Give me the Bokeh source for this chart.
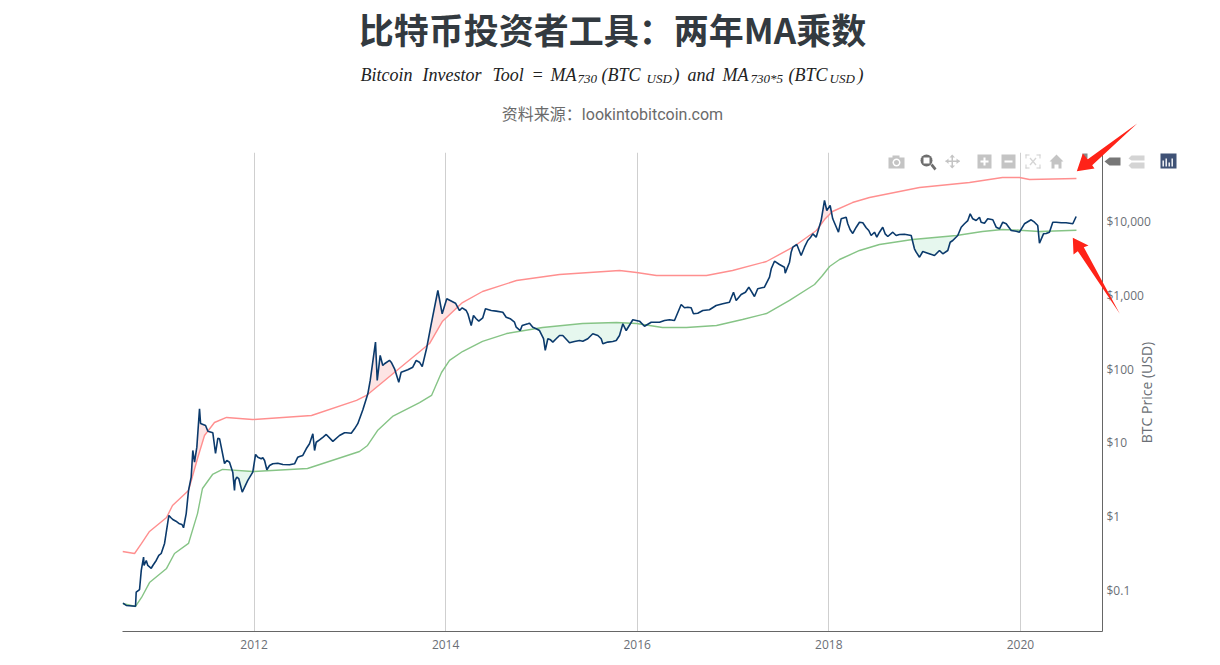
import math
import numpy as np
from bokeh.plotting import figure
from bokeh.layouts import column
from bokeh.models import FixedTicker, Label, PolyAnnotation, Range1d
from bokeh.embed import file_html
from bokeh.resources import INLINE

title_text = "比特币投资者工具：两年MA乘数"
source_text = "资料来源：lookintobitcoin.com"
y_axis_title = "BTC Price (USD)"

x_ticks = [2012, 2014, 2016, 2018, 2020]
y_ticks = [0.1, 1, 10, 100, 1000, 10000]
y_tick_labels = ["$0.1", "$1", "$10", "$100", "$1,000", "$10,000"]

price_year_main = [2010.631, 2010.666, 2010.763, 2010.770, 2010.805, 2010.823, 2010.847, 2010.852, 2010.875, 2010.927,
    2010.979, 2011.031, 2011.066, 2011.111, 2011.152, 2011.222, 2011.264, 2011.292, 2011.316, 2011.344,
    2011.361, 2011.379, 2011.403, 2011.431, 2011.442, 2011.494, 2011.518, 2011.570, 2011.598, 2011.622,
    2011.658, 2011.692, 2011.744, 2011.796, 2011.820, 2011.877, 2011.935, 2011.987, 2012.016, 2012.075,
    2012.110, 2012.134, 2012.196, 2012.301, 2012.423, 2012.457, 2012.509, 2012.545, 2012.614, 2012.632,
    2012.649, 2012.754, 2012.823, 2012.945, 2013.015, 2013.083, 2013.136, 2013.188, 2013.213, 2013.268,
    2013.286, 2013.317, 2013.344, 2013.414, 2013.467, 2013.511, 2013.536, 2013.657, 2013.693, 2013.756,
    2013.804, 2013.850, 2013.919, 2013.964, 2014.012, 2014.103, 2014.145, 2014.215, 2014.267, 2014.291,
    2014.346, 2014.416, 2014.597, 2014.632, 2014.719, 2014.779, 2014.858, 2014.946, 2015.022, 2015.040,
    2015.067, 2015.119, 2015.189, 2015.293, 2015.432, 2015.536, 2015.624, 2015.641, 2015.781, 2015.850,
    2015.885, 2015.954, 2016.024, 2016.076, 2016.146, 2016.337, 2016.389, 2016.459, 2016.494, 2016.563,
    2016.587, 2016.685, 2016.824, 2016.963, 2017.005, 2017.033, 2017.165, 2017.224, 2017.328, 2017.433,
    2017.537, 2017.545, 2017.624, 2017.666, 2017.711, 2017.780, 2017.833, 2017.868, 2017.920, 2017.955,
    2017.979, 2018.014, 2018.041, 2018.101, 2018.129, 2018.181, 2018.250, 2018.320, 2018.442, 2018.563,
    2018.616, 2018.668, 2018.738, 2018.860, 2018.894, 2018.947, 2018.981, 2019.103, 2019.242, 2019.267,
    2019.346, 2019.416, 2019.476, 2019.503, 2019.573, 2019.625, 2019.712, 2019.747, 2019.816, 2019.904,
    2019.990, 2020.112, 2020.181, 2020.199, 2020.241, 2020.303, 2020.338, 2020.426, 2020.547, 2020.582]
price_usd_main = [0.0673, 0.0627, 0.0612, 0.0948, 0.103, 0.187, 0.283, 0.218, 0.255, 0.200,
    0.255, 0.317, 0.434, 1.04, 0.916, 0.80, 0.708, 1.10, 2.26, 3.43,
    7.89, 5.47, 8.75, 29.0, 18.3, 17.2, 14.4, 13.7, 7.18, 11.5,
    8.75, 5.26, 5.47, 2.26, 3.43, 2.15, 3.10, 4.01, 6.97, 6.09,
    5.78, 4.32, 5.21, 5.09, 5.21, 6.40, 6.75, 8.32, 13.3, 7.89,
    10.2, 13.0, 10.5, 13.7, 13.5, 18.2, 28.1, 46.2, 70.1, 232,
    70, 153, 112, 131, 101, 66.4, 90.8, 106, 131, 108,
    198, 411, 1161, 561, 897, 782, 622, 622, 390, 532,
    446, 656, 590, 505, 432, 333, 411, 352, 258, 179,
    258, 232, 285, 227, 239, 301, 258, 220, 244, 411,
    333, 466, 446, 381, 432, 466, 456, 750, 677, 677,
    561, 622, 727, 806, 1101, 851, 1288, 963, 1288, 2897,
    2404, 1995, 4486, 4880, 3460, 5530, 6810, 6130, 10300, 19270,
    14090, 16480, 10880, 7160, 10880, 11430, 6880, 9780, 6460, 8370,
    6260, 7160, 6670, 6460, 4270, 3280, 3920, 3460, 4050, 5240,
    6460, 9310, 12710, 10880, 11430, 9480, 10550, 8370, 9780, 7550,
    7160, 10550, 8830, 5080, 6810, 7160, 9780, 9600, 9310, 11690]

price_year_more = [2010.891, 2010.944, 2011.006, 2011.133, 2011.185, 2011.248, 2011.640, 2011.716, 2011.778, 2011.803, 2011.841,
    2012.040, 2012.092, 2012.162, 2012.248, 2012.371, 2012.475, 2012.579, 2012.684, 2012.718, 2012.892, 2012.962, 2013.049,
    2013.362, 2013.432, 2013.605, 2013.727,
    2014.173, 2014.232, 2014.319, 2014.388, 2014.476, 2014.528, 2014.674, 2014.737, 2014.799, 2014.876, 2014.910, 2014.980,
    2015.095, 2015.154, 2015.223, 2015.345, 2015.398, 2015.484, 2015.589, 2015.693, 2015.745, 2015.815,
    2016.233, 2016.285, 2016.528, 2016.632, 2016.754, 2016.893, 2017.085, 2017.130, 2017.258, 2017.381, 2017.399, 2017.485,
    2017.590, 2017.607, 2017.746, 2017.806,
    2018.198, 2018.223, 2018.286, 2018.355, 2018.390, 2018.417, 2018.477, 2018.501, 2018.529, 2018.588, 2018.703, 2018.790,
    2018.912, 2019.033, 2019.155, 2019.190, 2019.294, 2019.382, 2019.451, 2019.538, 2019.590, 2019.659, 2019.782, 2019.852,
    2019.956, 2020.042, 2020.147, 2020.269, 2020.373, 2020.477]
price_usd_more = [0.218, 0.218, 0.298, 0.966, 0.869, 0.783, 11.4, 5.78, 4.01, 3.10, 3.27,
    6.40, 6.28, 4.94, 5.31, 5.05, 6.55, 9.72, 11.0, 11.9, 12.6, 13.7, 15.5,
    118, 124, 97.9, 124,
    677, 561, 481, 495, 622, 610, 481, 370, 390, 419, 370, 333,
    249, 258, 285, 237, 244, 258, 285, 232, 237, 285,
    432, 456, 690, 572, 637, 767, 1026, 1101, 1225, 1758, 2286, 2612,
    2810, 3840, 4486, 6010,
    9310, 7720, 8370, 9600, 8220, 7550, 7160, 6130, 7160, 6810, 6460, 6730,
    3840, 3720, 4050, 3650, 5530, 8370, 10300, 10300, 9780, 10880, 7960, 9310,
    7390, 9310, 9780, 6880, 9780, 9620]

ma_year = [2010.627, 2010.763, 2010.826, 2010.909, 2011.087, 2011.170, 2011.316, 2011.410, 2011.462, 2011.567,
    2011.671, 2011.984, 2012.558, 2013.101, 2013.185, 2013.289, 2013.446, 2013.728, 2013.853, 2013.957,
    2014.041, 2014.176, 2014.385, 2014.636, 2015.011, 2015.429, 2015.784, 2015.993, 2016.264, 2016.514,
    2016.828, 2017.099, 2017.349, 2017.590, 2017.851, 2017.934, 2018.008, 2018.112, 2018.321, 2018.529,
    2018.874, 2019.333, 2019.604, 2019.813, 2019.990, 2020.199, 2020.585]
ma_usd = [0.0667, 0.0607, 0.0804, 0.128, 0.199, 0.317, 0.434, 1.10, 2.41, 3.73,
    4.37, 4.09, 4.50, 7.64, 9.23, 14.7, 22.8, 35.2, 43.9, 89.9,
    131, 173, 237, 303, 366, 415, 428, 415, 366, 366,
    390, 470, 566, 851, 1400, 1854, 2455, 3055, 4050, 4880,
    5700, 6460, 7320, 7800, 7620, 7320, 7620]

ma5_year = [2010.627, 2010.753, 2010.826, 2010.909, 2011.087, 2011.149, 2011.316, 2011.410, 2011.483, 2011.587,
    2011.713, 2011.984, 2012.600, 2013.070, 2013.174, 2013.832, 2013.968, 2014.176, 2014.385, 2014.740,
    2015.189, 2015.816, 2015.993, 2016.201, 2016.473, 2016.723, 2016.995, 2017.349, 2017.621, 2017.871,
    2017.955, 2018.038, 2018.247, 2018.425, 2018.947, 2019.469, 2019.813, 2019.990, 2020.095, 2020.585]
ma5_usd = [0.338, 0.317, 0.434, 0.631, 0.975, 1.42, 2.26, 6.15, 12.6, 18.9,
    22.1, 20.7, 23.5, 37.6, 43.9, 222, 446, 798, 1126, 1585,
    1914, 2168, 2037, 1854, 1854, 1854, 2168, 2871, 4446, 7550,
    10630, 13660, 18080, 21150, 28900, 33730, 39450, 39450, 37070, 38270]

order = np.argsort(price_year_main + price_year_more)
price_year = np.array(price_year_main + price_year_more)[order]
price_usd = np.array(price_usd_main + price_usd_more)[order]

FRAME_L, FRAME_T, FRAME_W, FRAME_H = 122, 152, 980, 479
PAGE_W, PAGE_H = 1212, 657
NUDGE_X = 1

p = figure(width=PAGE_W, height=PAGE_H, frame_width=FRAME_W, frame_height=FRAME_H,
           min_border_left=FRAME_L, min_border_right=PAGE_W - FRAME_L - FRAME_W,
           min_border_top=FRAME_T, min_border_bottom=PAGE_H - FRAME_T - FRAME_H,
           y_axis_type="log", y_axis_location="right",
           x_range=Range1d(2010.627, 2020.857), y_range=Range1d(0.0278, 86100),
           output_backend="svg", toolbar_location=None, background_fill_color="white",
           border_fill_color="white", outline_line_color=None)
p.frame_align = False

p.ygrid.visible = False
p.xgrid.grid_line_color = "#cfcfcf"
p.xgrid.grid_line_width = 1
p.xgrid.ticker = FixedTicker(ticks=x_ticks)

ax = p.xaxis[0]
ax.ticker = FixedTicker(ticks=x_ticks)
ax.major_label_overrides = {t: str(t) for t in x_ticks}
ay = p.yaxis[0]
ay.ticker = FixedTicker(ticks=y_ticks)
ay.major_label_overrides = dict(zip(y_ticks, y_tick_labels))
for a in (ax, ay):
    a.major_tick_line_color = None
    a.minor_tick_line_color = None
    a.major_tick_out = 0
    a.major_tick_in = 0
    a.minor_tick_out = 0
    a.minor_tick_in = 0
    a.axis_line_color = "#666666"
    a.axis_line_width = 1
    a.major_label_text_font = "Open Sans"
    a.major_label_text_font_size = "12px"
    a.major_label_text_color = "#6b6f76"
ay.major_label_standoff = 4
ax.major_label_standoff = 8

# shaded zones between price and the moving averages
grid = np.linspace(price_year[0], price_year[-1], 4000)
lp = np.interp(grid, price_year, np.log10(price_usd))
lg = np.interp(grid, ma_year, np.log10(ma_usd))
lr = np.interp(grid, ma5_year, np.log10(ma5_usd))


def shade(mask, lo, hi, color):
    idx = np.flatnonzero(mask)
    if idx.size == 0:
        return
    for part in np.split(idx, np.flatnonzero(np.diff(idx) > 1) + 1):
        p.varea(grid[part], 10 ** lo[part], 10 ** hi[part], fill_color=color)


shade(lp > lr, lr, lp, "#fde4e4")
shade(lp < lg, lp, lg, "#e6f7ee")

p.line(ma5_year, ma5_usd, line_color="#ff8f8f", line_width=1.4)
p.line(ma_year, ma_usd, line_color="#86c486", line_width=1.4)
p.line(price_year, price_usd, line_color="#0b3a6c", line_width=1.6)

# transparent sheet over the page: headings, axis title, pictured toolbar, red call-outs
sheet = figure(width=PAGE_W, height=PAGE_H, min_border=0, x_range=Range1d(0, PAGE_W), y_range=Range1d(0, PAGE_H),
               x_axis_location=None, y_axis_location=None, output_backend="svg", toolbar_location=None,
               background_fill_alpha=0, border_fill_alpha=0, outline_line_color=None)
sheet.frame_align = False
sheet.grid.visible = False
sheet.margin = (-PAGE_H, 0, 0, 0)


def label(text, x, y, size, color, font, style="normal", align="left", baseline="alphabetic", angle=0):
    sheet.add_layout(Label(x=x - NUDGE_X, y=PAGE_H - y, x_units="screen", y_units="screen", angle=angle,
                           text=text, text_font=font, text_font_size=f"{size}px", text_font_style=style,
                           text_color=color, text_align=align, text_baseline=baseline))


def poly(points, color):
    sheet.add_layout(PolyAnnotation(xs=[a - NUDGE_X for a, _ in points], ys=[PAGE_H - b for _, b in points],
                                    xs_units="screen", ys_units="screen", fill_color=color, fill_alpha=1,
                                    line_color=None, level="overlay"))


def box(x0, y0, x1, y1, color):
    poly([(x0, y0), (x1, y0), (x1, y1), (x0, y1)], color)


def disc(cx, cy, r, color):
    a = np.linspace(0, 2 * np.pi, 17)[:-1]
    poly(list(zip(cx + r * np.cos(a), cy + r * np.sin(a))), color)


label(title_text, 613, 28, 35, "#333a40", "Noto Sans CJK SC", "bold", "center", "middle")

M = "Liberation Serif"
for t, x, y, s in [("Bitcoin", 361, 74, 18), ("Investor", 423, 74, 18), ("Tool", 493, 74, 18), ("=", 532, 74, 18),
                   ("MA", 551, 74, 18), ("730", 578, 78, 13), ("(BTC", 602, 74, 18), ("USD", 647, 78, 13),
                   (")", 674, 74, 18), ("and", 688, 74, 18), ("MA", 723, 74, 18), ("730*5", 751, 78, 13),
                   ("(BTC", 789, 74, 18), ("USD", 830, 78, 13), (")", 858, 74, 18)]:
    label(t, x, y, s, "#222222", M, "italic")

label(source_text, 613, 114, 16, "#6a6a6a", "Roboto, 'Noto Sans CJK SC'", "normal", "center", "middle")
label(y_axis_title, 1147, 392, 14, "#6b6f76", "Open Sans", "normal", "center", "middle", math.pi / 2)

G, D = "#c4c4c4", "#6e6e6e"
box(889, 157, 905, 168, G); box(893, 155, 900, 158, G); disc(897, 162, 4, "white"); disc(897, 162, 2.5, G)
poly([(931, 165), (933, 163), (937, 168), (935, 170)], D); disc(927, 160, 6, D); box(924, 157, 930, 163, "white")
box(952, 155, 953.5, 167, G); box(946, 160, 960, 161.5, G)
poly([(949, 158), (946, 160.7), (949, 163.5)], G); poly([(957, 158), (960.5, 160.7), (957, 163.5)], G)
poly([(950, 157), (952.7, 154), (955.5, 157)], G); poly([(950, 165), (952.7, 168), (955.5, 165)], G)
box(978, 154, 992, 168, G); box(984, 157, 986, 165, "white"); box(981, 160, 989, 162, "white")
box(1002, 154, 1016, 168, G); box(1005, 160, 1013, 162, "white")
for x0, y0, x1, y1 in [(1026, 154, 1030, 155), (1037, 154, 1041, 155), (1026, 167, 1030, 168), (1037, 167, 1041, 168),
                       (1026, 154, 1027, 158), (1040, 154, 1041, 158), (1026, 164, 1027, 168), (1040, 164, 1041, 168)]:
    box(x0, y0, x1, y1, "#d0d0d0")
poly([(1030, 158), (1031, 157), (1037, 164), (1036, 165)], "#d6d6d6")
poly([(1036, 157), (1037, 158), (1031, 165), (1030, 164)], "#d6d6d6")
poly([(1050, 161), (1057, 154), (1064, 161), (1062, 161), (1062, 168), (1059, 168), (1059, 164), (1055, 164), (1055, 168),
      (1052, 168), (1052, 161)], G)
box(1083, 153, 1088, 158, "#888888")
poly([(1105, 161), (1110, 157), (1121, 157), (1121, 165), (1110, 165)], "#777777")
poly([(1129, 158), (1132, 155), (1145, 155), (1145, 160), (1132, 160)], "#d4d4d4")
poly([(1129, 165), (1132, 162), (1145, 162), (1145, 168), (1132, 168)], "#d4d4d4")
box(1161, 153, 1177, 168, "#3f5276")
for bx, b0 in [(1163, 160), (1166, 158), (1169, 162), (1172, 158)]:
    box(bx, b0, bx + 1.4, 166, "white")

poly([(1077.3, 170.7), (1083.3, 153), (1088.3, 158.7), (1137.7, 123), (1092.7, 164.7), (1095, 168)], "#ff2318")
poly([(1073.3, 237.3), (1089, 245), (1084.3, 246.7), (1120.3, 313.3), (1078.3, 250.7), (1074, 254)], "#ff2318")

open("out.html", "w").write(file_html(column(p, sheet), INLINE))
